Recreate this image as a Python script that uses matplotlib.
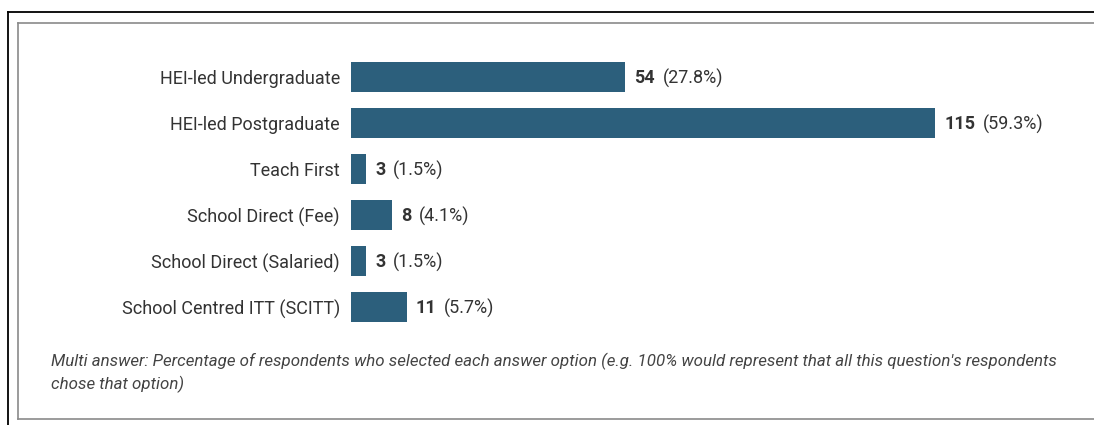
import matplotlib.pyplot as plt
from matplotlib.lines import Line2D

plt.rcParams['font.family'] = ['Roboto', 'DejaVu Sans']

routes = ["HEI-led Undergraduate", "HEI-led Postgraduate", "Teach First",
          "School Direct (Fee)", "School Direct (Salaried)", "School Centred ITT (SCITT)"]
counts = [54, 115, 3, 8, 3, 11]
percents = [27.8, 59.3, 1.5, 4.1, 1.5, 5.7]

note = ("Multi answer: Percentage of respondents who selected each answer option "
        "(e.g. 100% would represent that all this question's respondents\nchose that option)")

W, H = 1094, 425
fig = plt.figure(figsize=(W / 100, H / 100), dpi=100)

def fx(px):
    return px / W

def fy(py):
    return 1 - py / H

# outer black frame and inner grey panel
fig.add_artist(Line2D([fx(8), 1], [fy(12), fy(12)], color="black", lw=1.3))
fig.add_artist(Line2D([fx(8), fx(8)], [fy(12), 0], color="black", lw=1.3))
fig.add_artist(Line2D([fx(18), 1], [fy(22.5), fy(22.5)], color="#8a8a8a", lw=1.2))
fig.add_artist(Line2D([fx(18), fx(18)], [fy(22.5), fy(419)], color="#8a8a8a", lw=1.2))
fig.add_artist(Line2D([fx(18), 1], [fy(419), fy(419)], color="#8a8a8a", lw=1.2))

ax = fig.add_axes([fx(351), fy(330), fx(600), (330 - 54) / H])
y = range(len(routes))
ax.barh(y, counts, height=0.67, color="#2c5f7c")
ax.set_xlim(0, 115 * 600 / 584)
ax.set_ylim(len(routes) - 0.5, -0.5)
ax.set_yticks(list(y))
ax.set_yticklabels(routes, fontsize=13, color="#333333")
ax.tick_params(axis="y", length=0, pad=8)
ax.set_xticks([])
for s in ax.spines.values():
    s.set_visible(False)

for i, (c, p) in enumerate(zip(counts, percents)):
    num = ax.annotate(str(c), xy=(c, i), xytext=(6.5, -1), textcoords="offset points",
                      ha="left", va="center", fontsize=13, fontweight="bold", color="#333333")
    ax.annotate(f"({p}%)", xy=(1, 0.5), xycoords=num, xytext=(5.5, 0),
                textcoords="offset points", ha="left", va="center",
                fontsize=13, color="#333333")

fig.text(fx(51), fy(353), note, fontsize=12.2, style="italic", color="#444444",
         ha="left", va="top", linespacing=1.4)

fig.savefig("out.png", dpi=100)
